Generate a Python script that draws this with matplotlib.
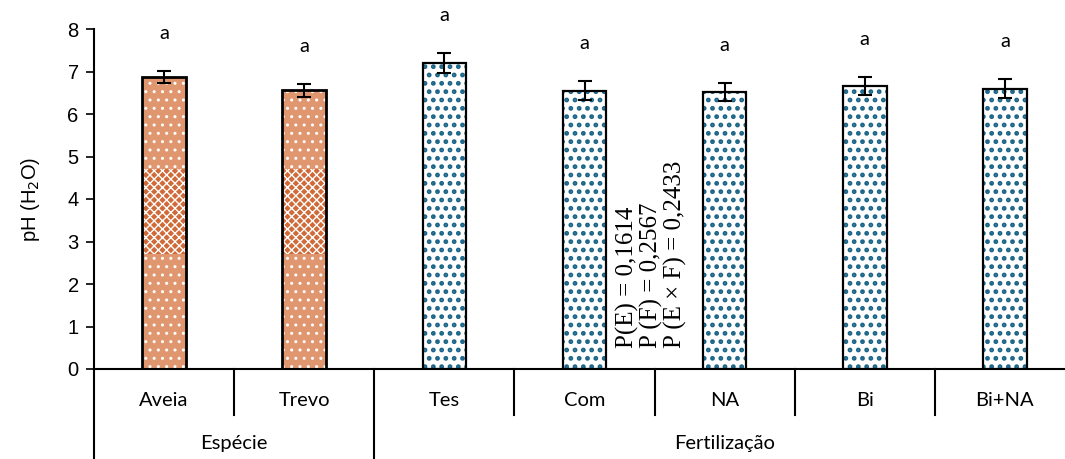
import matplotlib
matplotlib.use('Agg')
import matplotlib.pyplot as plt
import matplotlib.transforms as mtransforms

categories = ['Aveia', 'Trevo', 'Tes', 'Com', 'NA', 'Bi', 'Bi+NA']
groups = ['Espécie', 'Fertilização']
group_sizes = [2, 5]
ph_values = [6.87, 6.56, 7.20, 6.55, 6.52, 6.66, 6.60]
ph_errors = [0.14, 0.15, 0.23, 0.23, 0.22, 0.22, 0.22]
letters = ['a', 'a', 'a', 'a', 'a', 'a', 'a']
p_text = 'P(E) = 0,1614\nP (F) = 0,2567\nP (E × F) = 0,2433'

orange = '#e0976f'
orange_dark = '#d06a38'
teal = '#1a6488'

fig = plt.figure(figsize=(10.65, 4.59), dpi=100)
ax = fig.add_axes([94 / 1065, 90 / 459, 981 / 1065, 340 / 459])

x = list(range(len(categories)))
width = 0.31
n_sp = group_sizes[0]

# species bars (orange, patterned)
plt.rcParams['hatch.linewidth'] = 1.0
ax.bar(x[:n_sp], ph_values[:n_sp], width, color=orange, edgecolor='white',
       hatch='..', linewidth=0, zorder=2)
ax.bar(x[:n_sp], [2.0] * n_sp, width, bottom=2.7, color=orange_dark,
       edgecolor='white', hatch='xxxx', linewidth=0, zorder=2)
ax.bar(x[:n_sp], ph_values[:n_sp], width, fill=False, edgecolor='black',
       linewidth=2, zorder=3)

# fertilization bars (white with blue dots)
plt.rcParams['hatch.linewidth'] = 2.2
ax.bar(x[n_sp:], ph_values[n_sp:], width, color='white', edgecolor=teal,
       hatch='..', linewidth=0, zorder=2)
ax.bar(x[n_sp:], ph_values[n_sp:], width, fill=False, edgecolor='black',
       linewidth=1.6, zorder=3)

ax.errorbar(x, ph_values, yerr=ph_errors, fmt='none', ecolor='black',
            elinewidth=1.5, capsize=5, capthick=1.5, zorder=4)

for xi, v, e, t in zip(x, ph_values, ph_errors, letters):
    ax.text(xi, v + e + 0.68, t, ha='center', va='bottom', fontsize=14.5,
            family='Lato')

ax.text(3.48, 0.5, p_text, rotation=90, ha='center', va='bottom',
        multialignment='left', fontsize=18, family='Liberation Serif',
        linespacing=1.05)

ax.set_xlim(-0.5, 6.5)
ax.set_ylim(0, 8)
ax.set_yticks(range(0, 9))
ax.tick_params(axis='y', direction='out', length=6, width=1.2, labelsize=14.5,
               pad=5)
for lab in ax.get_yticklabels():
    lab.set_family('Liberation Sans')
ax.set_xticks([])
ax.set_ylabel('pH (H$_2$O)', fontsize=14.5, family='Liberation Sans',
              labelpad=18)

for s in ['top', 'right']:
    ax.spines[s].set_visible(False)
ax.spines['left'].set_linewidth(1.5)
ax.spines['bottom'].set_linewidth(1.5)

# two-level category axis
trans = mtransforms.blended_transform_factory(ax.transData, ax.transAxes)
axes_h = 340 / 459 * 4.59 * 100
y_row1 = -31 / axes_h
y_row1_end = -46 / axes_h
y_row2 = -75 / axes_h
y_bottom = -100 / axes_h

for xi, name in zip(x, categories):
    ax.text(xi, y_row1, name, transform=trans, ha='center', va='center',
            fontsize=14.5, family='Lato')

start = -0.5
bounds = [start]
for gname, size in zip(groups, group_sizes):
    end = start + size
    ax.text((start + end) / 2, y_row2, gname, transform=trans, ha='center',
            va='center', fontsize=14.5, family='Lato')
    start = end
    bounds.append(end)

for b in bounds[:-1]:
    ax.plot([b, b], [0, y_bottom], transform=trans, color='black', lw=1.5,
            clip_on=False)
for xi in x[:-1]:
    b = xi + 0.5
    if b in bounds:
        continue
    ax.plot([b, b], [0, y_row1_end], transform=trans, color='black', lw=1.5,
            clip_on=False)

fig.savefig('out.png', dpi=100)
